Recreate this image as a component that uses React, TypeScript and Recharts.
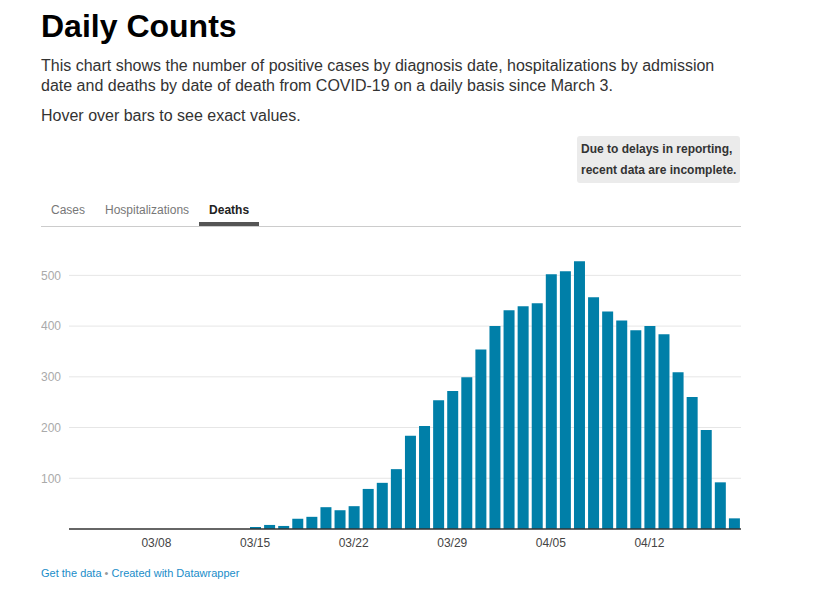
import { BarChart, Bar, XAxis, YAxis, CartesianGrid } from 'recharts';

const dates = [
  '03/03', '03/04', '03/05', '03/06', '03/07', '03/08', '03/09', '03/10',
  '03/11', '03/12', '03/13', '03/14', '03/15', '03/16', '03/17', '03/18',
  '03/19', '03/20', '03/21', '03/22', '03/23', '03/24', '03/25', '03/26',
  '03/27', '03/28', '03/29', '03/30', '03/31', '04/01', '04/02', '04/03',
  '04/04', '04/05', '04/06', '04/07', '04/08', '04/09', '04/10', '04/11',
  '04/12', '04/13', '04/14', '04/15', '04/16', '04/17', '04/18',
];

const deaths = [
  0, 0, 0, 0, 0, 0, 0, 0,
  0, 0, 0, 0, 4, 8, 6, 20,
  24, 43, 37, 45, 79, 91, 118, 184,
  203, 254, 272, 299, 354, 400, 431, 439,
  445, 502, 508, 528, 457, 429, 411, 392,
  400, 384, 309, 260, 195, 92, 21,
];

const xTicks = ['03/08', '03/15', '03/22', '03/29', '04/05', '04/12'];
const yTicks = [100, 200, 300, 400, 500];
const tabs = ['Cases', 'Hospitalizations', 'Deaths'];

const data = dates.map((date, i) => ({ date, deaths: deaths[i] }));

const FONT = 'Arial, "Liberation Sans", Helvetica, sans-serif';

export default function App() {
  return (
    <div
      style={{
        position: 'absolute',
        left: 0,
        top: 0,
        width: 824,
        height: 601,
        background: '#ffffff',
        fontFamily: FONT,
        color: '#333',
      }}
    >
      <div
        style={{
          position: 'absolute',
          left: 41,
          top: 10,
          fontSize: 32,
          lineHeight: '32px',
          fontWeight: 700,
          color: '#000',
        }}
      >
        Daily Counts
      </div>
      <div
        style={{
          position: 'absolute',
          left: 41,
          top: 56,
          width: 700,
          fontSize: 16,
          lineHeight: '20px',
        }}
      >
        This chart shows the number of positive cases by diagnosis date, hospitalizations by admission
        date and deaths by date of death from COVID-19 on a daily basis since March 3.
      </div>
      <div style={{ position: 'absolute', left: 41, top: 106, fontSize: 16, lineHeight: '20px' }}>
        Hover over bars to see exact values.
      </div>

      {/* note box */}
      <div
        style={{
          position: 'absolute',
          left: 577,
          top: 136,
          width: 159,
          height: 44,
          padding: '3px 0 0 4px',
          background: '#ebebeb',
          borderRadius: 3,
          fontSize: 12,
          fontWeight: 700,
          lineHeight: '21px',
          color: '#333',
        }}
      >
        Due to delays in reporting,
        <br />
        recent data are incomplete.
      </div>

      {/* tabs */}
      <div
        style={{
          position: 'absolute',
          left: 41,
          top: 226,
          width: 700,
          height: 1,
          background: '#cccccc',
        }}
      />
      <div style={{ position: 'absolute', left: 41, top: 200, display: 'flex', fontSize: 12 }}>
        {tabs.map((t) => {
          const active = t === 'Deaths';
          return (
            <div
              key={t}
              style={{
                padding: '0 10px',
                height: 26,
                lineHeight: '20px',
                color: active ? '#222' : '#777',
                fontWeight: active ? 700 : 400,
                borderBottom: active ? '4px solid #555' : '4px solid transparent',
                boxSizing: 'border-box',
              }}
            >
              {t}
            </div>
          );
        })}
      </div>

      {/* chart */}
      <div style={{ position: 'absolute', left: 41, top: 240 }}>
        <BarChart width={700} height={319} data={data} margin={{ top: 10, right: 0, bottom: 0, left: 0 }}>
          <CartesianGrid vertical={false} horizontalValues={yTicks} stroke="#e6e6e6" />
          <XAxis
            dataKey="date"
            ticks={xTicks}
            interval={0}
            tickLine={false}
            tickSize={0}
            tickMargin={9}
            height={30}
            padding={{ left: 10, right: 0 }}
            axisLine={{ stroke: '#333', strokeWidth: 1.5 }}
            tick={{ fontSize: 12, fill: '#444', fontFamily: FONT }}
          />
          <YAxis
            width={28}
            domain={[0, 550]}
            ticks={yTicks}
            axisLine={false}
            tickLine={false}
            tickSize={0}
            tickMargin={8}
            tick={{ fontSize: 12, fill: '#aaa', fontFamily: FONT }}
          />
          <Bar dataKey="deaths" fill="#007fa8" barSize={11} isAnimationActive={false} />
        </BarChart>
      </div>

      <div
        style={{
          position: 'absolute',
          left: 41,
          top: 566,
          fontSize: 11,
          lineHeight: '14px',
          color: '#1a8dc9',
        }}
      >
        Get the data <span style={{ color: '#999' }}>•</span> Created with Datawrapper
      </div>
    </div>
  );
}
